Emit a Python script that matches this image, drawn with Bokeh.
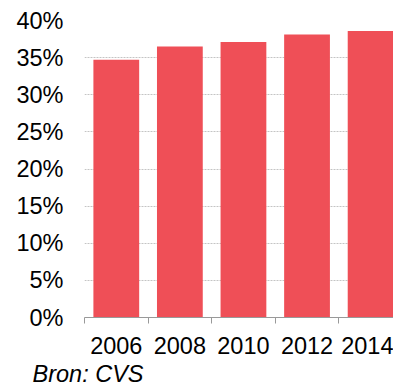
from bokeh.plotting import figure
from bokeh.models import FixedTicker, Range1d, Title, PrintfTickFormatter
from bokeh.embed import file_html
from bokeh.resources import INLINE

years = ["2006", "2008", "2010", "2012", "2014"]
values = [34.7, 36.5, 37.1, 38.1, 38.6]
y_ticks = [0, 5, 10, 15, 20, 25, 30, 35, 40]

xs = list(range(len(years)))

p = figure(width=393, height=389, output_backend="svg", toolbar_location=None,
           x_range=Range1d(-0.5, 4.36), y_range=Range1d(0, 40),
           min_border_left=84, min_border_right=0, min_border_top=20,
           min_border_bottom=0)
p.outline_line_color = None
p.background_fill_color = "white"
p.border_fill_color = "white"

p.vbar(x=xs, top=values, width=0.72, fill_color="#EF4F57", line_color=None)

FONT = "Liberation Sans"

# x axis
xa = p.xaxis[0]
xa.ticker = FixedTicker(ticks=xs, minor_ticks=[i - 0.5 for i in range(len(years) + 1)])
xa.major_label_overrides = {i: y for i, y in enumerate(years)}
xa.major_tick_in = 0
xa.major_tick_out = 0
xa.minor_tick_in = 0
xa.minor_tick_out = 6
xa.minor_tick_line_color = "#999999"
xa.axis_line_color = "#999999"
xa.major_label_text_font = FONT
xa.major_label_text_font_size = "23.5px"
xa.major_label_text_color = "black"
xa.major_label_standoff = 13

# y axis
ya = p.yaxis[0]
ya.ticker = FixedTicker(ticks=y_ticks)
ya.formatter = PrintfTickFormatter(format="%d%%")
ya.axis_line_color = None
ya.major_tick_line_color = None
ya.minor_tick_line_color = None
ya.major_tick_in = 0
ya.major_tick_out = 0
ya.major_label_standoff = 21
ya.major_label_text_font = FONT
ya.major_label_text_font_size = "23.5px"
ya.major_label_text_color = "black"

p.xgrid.grid_line_color = None
p.ygrid.grid_line_color = "#c4c4c4"
p.ygrid.grid_line_dash = "2 1"
p.ygrid.grid_line_width = 1

src = Title(text="Bron: CVS", align="left", offset=-52, standoff=5,
            text_font=FONT, text_font_size="23.5px", text_font_style="italic",
            text_color="black")
p.add_layout(src, "below")

open("out.html", "w").write(file_html(p, INLINE))
